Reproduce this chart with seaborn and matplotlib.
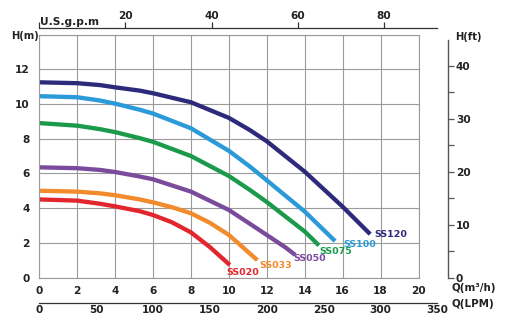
import matplotlib
matplotlib.use("Agg")
import matplotlib.pyplot as plt
import seaborn as sns
import pandas as pd

# ---- data ----
models = ["SS120", "SS100", "SS075", "SS050", "SS033", "SS020"]
colors = ["#2d2a7c", "#2a9ad8", "#1c9a4b", "#7a4b9d", "#f18b2b", "#e2262d"]

q_ss120 = [0, 2, 3.2, 4, 5.3, 6, 8, 10, 11.1, 12, 14, 16, 17.45]
h_ss120 = [11.25, 11.2, 11.09, 10.96, 10.77, 10.62, 10.1, 9.2, 8.5, 7.85, 6.1, 4.08, 2.5]
q_ss100 = [0, 2, 3.2, 4, 5.3, 6, 8, 10, 11.1, 12, 14, 15.6]
h_ss100 = [10.45, 10.39, 10.2, 10.02, 9.67, 9.45, 8.6, 7.3, 6.4, 5.6, 3.8, 2.1]
q_ss075 = [0, 2, 3.2, 4, 5.3, 6, 8, 10, 11.1, 12, 14, 14.75]
h_ss075 = [8.9, 8.75, 8.55, 8.38, 8.03, 7.82, 7.0, 5.85, 5.05, 4.35, 2.65, 1.85]
q_ss050 = [0, 2, 3.2, 4, 5.3, 6, 8, 10, 11.1, 12, 13, 13.5]
h_ss050 = [6.35, 6.3, 6.2, 6.08, 5.82, 5.66, 4.95, 3.89, 3.1, 2.45, 1.72, 1.3]
q_ss033 = [0, 2, 3.2, 4, 5.3, 6, 7, 8, 9, 10, 11.5]
h_ss033 = [5.0, 4.95, 4.85, 4.74, 4.5, 4.33, 4.05, 3.7, 3.15, 2.45, 1.0]
q_ss020 = [0, 2, 3.2, 4, 5.3, 6, 7, 8, 9, 10.05]
h_ss020 = [4.5, 4.43, 4.25, 4.1, 3.82, 3.6, 3.18, 2.6, 1.75, 0.72]

m_ticks = [0, 2, 4, 6, 8, 10, 12, 14, 16, 18, 20]
h_ticks = [0, 2, 4, 6, 8, 10, 12, 14]
lpm_ticks = [0, 50, 100, 150, 200, 250, 300, 350]
gpm_ticks = [0, 20, 40, 60, 80]
ft_ticks = [0, 10, 20, 30, 40]
ft_minor = [5, 15, 25, 35]

series = {
    "SS120": (q_ss120, h_ss120),
    "SS100": (q_ss100, h_ss100),
    "SS075": (q_ss075, h_ss075),
    "SS050": (q_ss050, h_ss050),
    "SS033": (q_ss033, h_ss033),
    "SS020": (q_ss020, h_ss020),
}
rows = []
for m in models:
    for qv, hv in zip(*series[m]):
        rows.append({"model": m, "q": qv, "h": hv})
df = pd.DataFrame(rows)
palette = dict(zip(models, colors))

GPM_PER_M3H = 4.40287
LPM_PER_M3H = 1000 / 60
FT_PER_M = 3.28084

sns.set_style("white")
plt.rcParams["font.family"] = ["DejaVu Sans"]
plt.rcParams["font.weight"] = "bold"

W, H = 512, 325
fig = plt.figure(figsize=(W / 100, H / 100), dpi=100)

# pixel geometry
x0, y0 = 39.3, 277.5      # origin of main plot in pixels
px_q, px_h = 18.96, 17.35  # pixels per unit

def fx(px):
    return px / W

def fy(py):
    return 1 - py / H

ax = fig.add_axes([fx(x0), fy(y0), 20 * px_q / W, 14 * px_h / H])

sns.lineplot(data=df, x="q", y="h", hue="model", palette=palette, sort=False,
             estimator=None, linewidth=3.1, legend=False, ax=ax)
for ln in ax.get_lines():
    ln.set_solid_joinstyle("round")
    ln.set_solid_capstyle("butt")

ax.set_xlim(0, 20)
ax.set_ylim(0, 14)
ax.set_xticks(m_ticks)
ax.set_yticks(h_ticks)
ax.set_yticklabels([str(t) if t < 14 else "" for t in h_ticks])
ax.set_xticklabels([str(t) for t in m_ticks])
ax.grid(True, color="#9a9a9a", linewidth=0.8)
for s in ax.spines.values():
    s.set_color("#9a9a9a")
    s.set_linewidth(0.8)
ax.tick_params(axis="y", length=4, width=0.8, color="#666666", pad=3,
               labelsize=7.6, labelcolor="#222222")
ax.tick_params(axis="x", length=0, pad=6, labelsize=7.6, labelcolor="#222222")
ax.set_xlabel("")
ax.set_ylabel("")

# curve labels
offsets = {"SS120": (4, 0), "SS100": (8, -3), "SS075": (0, -6),
           "SS050": (-2, -4), "SS033": (2, -5), "SS020": (-3, -7)}
for m, c in zip(models, colors):
    qs, hs = series[m]
    ax.annotate(m, xy=(qs[-1], hs[-1]), xytext=offsets[m],
                textcoords="offset pixels", color=c, fontsize=6.8,
                fontweight="bold", ha="left", va="center")

# top US gpm axis
axt = fig.add_axes([fx(x0), fy(28.3), 21 * px_q / W, 0])
axt.set_xlim(0, 21 * GPM_PER_M3H)
axt.set_yticks([])
for k in ["left", "right", "bottom"]:
    axt.spines[k].set_visible(False)
axt.spines["top"].set_color("#333333")
axt.spines["top"].set_linewidth(0.9)
axt.xaxis.set_ticks_position("top")
axt.xaxis.set_label_position("top")
axt.set_xticks(gpm_ticks)
axt.set_xticklabels([""] + [str(t) for t in gpm_ticks[1:]])
axt.tick_params(axis="x", direction="out", length=4, width=0.9, color="#333333",
                pad=1.5, labelsize=7.6, labelcolor="#222222")
axt.patch.set_visible(False)
fig.text(fx(x0 + 1), fy(22), "U.S.g.p.m", fontsize=7.7, fontweight="bold",
         color="#222222", ha="left", va="center")

# bottom LPM axis
axb = fig.add_axes([fx(x0), fy(302.5), 21 * px_q / W, 0])
axb.set_xlim(0, 21 * LPM_PER_M3H)
axb.set_yticks([])
for k in ["left", "right", "top"]:
    axb.spines[k].set_visible(False)
axb.spines["bottom"].set_color("#333333")
axb.spines["bottom"].set_linewidth(0.9)
axb.set_xticks(lpm_ticks)
axb.set_xticklabels([str(t) for t in lpm_ticks])
axb.tick_params(axis="x", direction="in", length=4, width=0.9, color="#333333",
                pad=2, labelsize=7.6, labelcolor="#222222")
axb.patch.set_visible(False)

# right H(ft) axis
axr = fig.add_axes([fx(448.3), fy(y0), 0, 14 * px_h / H])
axr.set_ylim(0, 14 * FT_PER_M)
axr.set_xticks([])
for k in ["left", "top", "bottom"]:
    axr.spines[k].set_visible(False)
axr.spines["right"].set_color("#555555")
axr.spines["right"].set_linewidth(1.0)
axr.spines["right"].set_bounds(0, 45)
axr.yaxis.set_ticks_position("right")
axr.set_yticks(ft_ticks)
axr.set_yticks(ft_minor, minor=True)
axr.set_yticklabels([str(t) for t in ft_ticks])
axr.tick_params(axis="y", which="both", direction="out", length=4.5, width=0.9,
                color="#555555", pad=1, labelsize=7.6, labelcolor="#222222")
axr.patch.set_visible(False)

# axis titles
fig.text(fx(11), fy(36), "H(m)", fontsize=7.2, fontweight="bold", color="#222222",
         ha="left", va="center")
fig.text(fx(455), fy(37), "H(ft)", fontsize=7.2, fontweight="bold", color="#222222",
         ha="left", va="center")
fig.text(fx(452), fy(288), "Q(m³/h)", fontsize=7.4, fontweight="bold", color="#222222",
         ha="left", va="center")
fig.text(fx(452), fy(304), "Q(LPM)", fontsize=7.4, fontweight="bold", color="#222222",
         ha="left", va="center")

fig.savefig("out.png", dpi=100, facecolor="white")
